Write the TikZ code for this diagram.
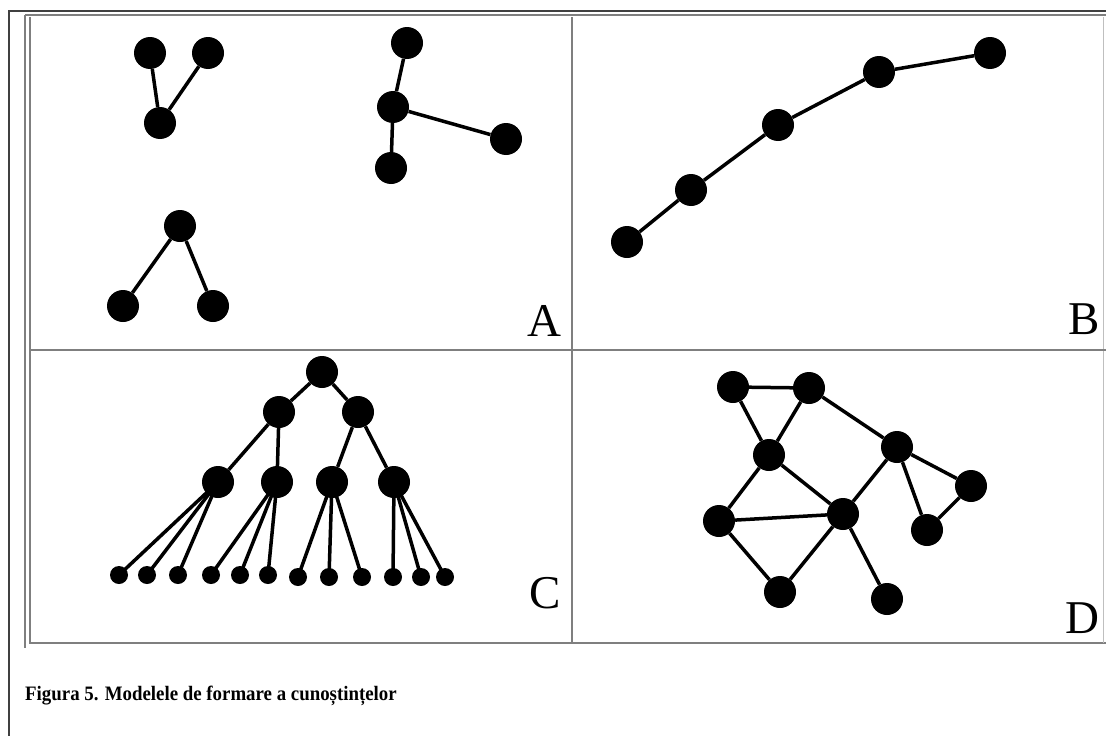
\documentclass[tikz,border=0pt]{standalone}
\usepackage{fontspec}
\setmainfont{Liberation Serif}
\usepackage{xcolor}
\usepackage{tikz}
\usetikzlibrary{positioning}
\definecolor{FrameGrey}{HTML}{7F7F7F}
\definecolor{FrameDark}{HTML}{404040}

\tikzset{
  dot/.style={circle, fill=black, minimum size=32pt, inner sep=0pt},
  leaf/.style={circle, fill=black, minimum size=18pt, inner sep=0pt},
  edge/.style={line width=3.5pt, black},
  frame/.style={line width=2.2pt, FrameGrey},
  panelletter/.style={anchor=base east, inner sep=0pt, font=\fontsize{47}{47}\selectfont}
}

\begin{document}
\begin{tikzpicture}[x=1pt, y=-1pt]
\useasboundingbox (0,0) rectangle (1106,736);

% --- FRAMES ---
\draw[line width=2pt, FrameDark] (9,736) -- (9,11) -- (1106,11);
\draw[frame] (25,15) -- (1106,15);
\draw[frame] (25,15) -- (25,648);
\draw[frame] (30,17) -- (30,643) -- (1106,643);
\draw[line width=1pt, FrameGrey!50] (1103,17) -- (1103,643);
\draw[frame] (572,17) -- (572,643);
\draw[frame] (30,350) -- (1106,350);

% --- PANEL A: SEPARATE GROUPS ---
\node[dot] (v1) at (150,53) {};
\node[dot] (v2) at (208,53) {};
\node[dot] (v3) at (160,123) {};
\draw[edge] (v1) -- (v3);
\draw[edge] (v2) -- (v3);

\node[dot] (s1) at (407,43) {};
\node[dot] (s2) at (393,107) {};
\node[dot] (s3) at (506,139) {};
\node[dot] (s4) at (391,168) {};
\draw[edge] (s1) -- (s2);
\draw[edge] (s2) -- (s3);
\draw[edge] (s2) -- (s4);

\node[dot] (w1) at (180,226) {};
\node[dot] (w2) at (123,306) {};
\node[dot] (w3) at (213,306) {};
\draw[edge] (w1) -- (w2);
\draw[edge] (w1) -- (w3);

\node[panelletter] (labA) at (562,336) {A};

% --- PANEL B: CHAIN ---
\node[dot] (b1) at (627,242) {};
\node[dot] (b2) at (691,190) {};
\node[dot] (b3) at (778,125) {};
\node[dot] (b4) at (879,72) {};
\node[dot] (b5) at (990,53) {};
\draw[edge] (b1) -- (b2);
\draw[edge] (b2) -- (b3);
\draw[edge] (b3) -- (b4);
\draw[edge] (b4) -- (b5);

\node[panelletter] (labB) at (1100,334) {B};

% --- PANEL C: TREE ---
\node[dot] (root) at (322,372) {};
\node[dot] (m1) at (279,412) {};
\node[dot] (m2) at (358,412) {};
\node[dot] (k1) at (218,482) {};
\node[dot] (k2) at (277,482) {};
\node[dot] (k3) at (332,482) {};
\node[dot] (k4) at (394,482) {};
\draw[edge] (root) -- (m1);
\draw[edge] (root) -- (m2);
\draw[edge] (m1) -- (k1);
\draw[edge] (m1) -- (k2);
\draw[edge] (m2) -- (k3);
\draw[edge] (m2) -- (k4);
% leaves
\node[leaf] (l1) at (119,575) {};
\node[leaf] (l2) at (147,575) {};
\node[leaf] (l3) at (178,575) {};
\node[leaf] (l4) at (211,575) {};
\node[leaf] (l5) at (240,575) {};
\node[leaf] (l6) at (268,575) {};
\node[leaf] (l7) at (298,577) {};
\node[leaf] (l8) at (329,577) {};
\node[leaf] (l9) at (362,577) {};
\node[leaf] (l10) at (393,577) {};
\node[leaf] (l11) at (421,577) {};
\node[leaf] (l12) at (445,577) {};
\draw[edge] (k1.center) -- (l1.center);
\draw[edge] (k1.center) -- (l2.center);
\draw[edge] (k1.center) -- (l3.center);
\draw[edge] (k2.center) -- (l4.center);
\draw[edge] (k2.center) -- (l5.center);
\draw[edge] (k2.center) -- (l6.center);
\draw[edge] (k3.center) -- (l7.center);
\draw[edge] (k3.center) -- (l8.center);
\draw[edge] (k3.center) -- (l9.center);
\draw[edge] (k4.center) -- (l10.center);
\draw[edge] (k4.center) -- (l11.center);
\draw[edge] (k4.center) -- (l12.center);

\node[panelletter] (labC) at (561,608) {C};

% --- PANEL D: NETWORK ---
\node[dot] (na) at (733,387) {};
\node[dot] (nb) at (809,388) {};
\node[dot] (nc) at (769,455) {};
\node[dot] (nd) at (897,447) {};
\node[dot] (ne) at (971,486) {};
\node[dot] (nf) at (927,530) {};
\node[dot] (ng) at (719,521) {};
\node[dot] (nh) at (843,514) {};
\node[dot] (ni) at (780,592) {};
\node[dot] (nj) at (887,599) {};
\draw[edge] (na) -- (nb);
\draw[edge] (na) -- (nc);
\draw[edge] (nb) -- (nc);
\draw[edge] (nb) -- (nd);
\draw[edge] (nc) -- (ng);
\draw[edge] (nc) -- (nh);
\draw[edge] (ng) -- (nh);
\draw[edge] (ng) -- (ni);
\draw[edge] (ni) -- (nh);
\draw[edge] (nh) -- (nd);
\draw[edge] (nh) -- (nj);
\draw[edge] (nd) -- (ne);
\draw[edge] (nd) -- (nf);
\draw[edge] (nf) -- (ne);

\node[panelletter] (labD) at (1100,633) {D};

% --- CAPTION ---
\node[anchor=base west, inner sep=0pt, font=\fontsize{20.5}{20.5}\selectfont\bfseries] (caption) at (25,700) {\scalebox{0.92}[1]{Figura 5. Modelele de formare a cunoștințelor}};

\end{tikzpicture}
\end{document}
